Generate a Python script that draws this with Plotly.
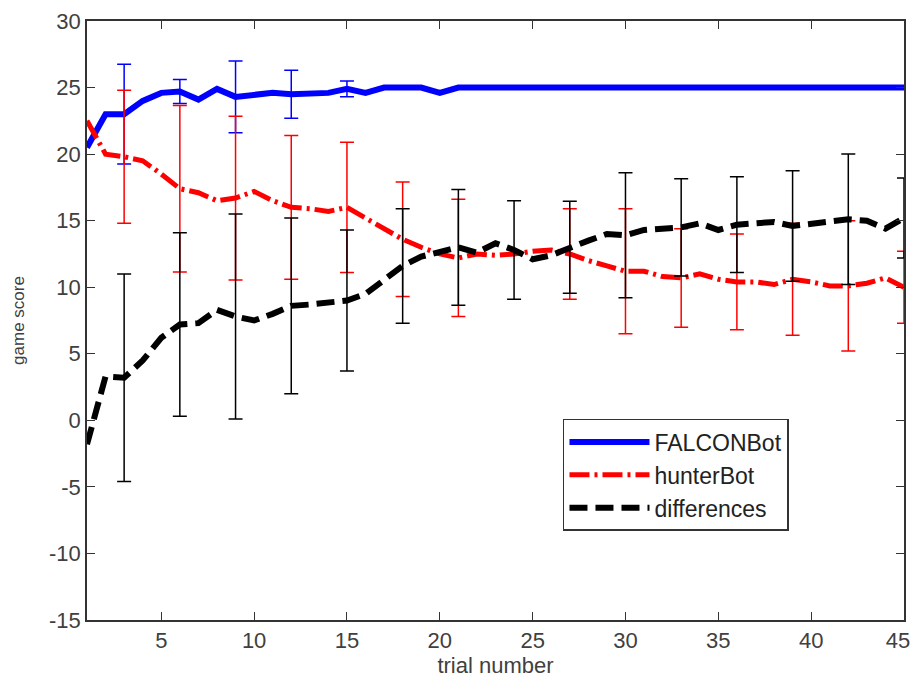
import plotly.graph_objects as go

# trial numbers
trials = list(range(1, 46))

# running mean game scores
falcon = [20.5, 23.0, 23.0, 24.0, 24.6, 24.7, 24.1, 24.9, 24.3, 24.4,
          24.6, 24.5, 24.5, 24.6, 24.9, 24.6, 25.0, 25.0, 25.0, 24.6,
          25.0, 25.0, 25.0, 25.0, 25.0, 24.9, 25.0, 25.0, 25.0, 25.0,
          25.0, 25.0, 25.0, 25.0, 25.0, 25.0, 25.0, 25.0, 25.0, 25.0,
          25.0, 25.0, 25.0, 25.0, 25.0]
hunter = [22.5, 20.0, 19.8, 19.5, 18.5, 17.4, 17.1, 16.5, 16.7, 17.2,
          16.5, 16.0, 15.9, 15.7, 16.0, 15.2, 14.5, 13.6, 13.0, 12.5,
          12.2, 12.5, 12.4, 12.5, 12.7, 12.8, 12.5, 12.0, 11.6, 11.2,
          11.2, 10.8, 10.7, 11.0, 10.6, 10.4, 10.4, 10.2, 10.6, 10.4,
          10.1, 10.1, 10.3, 10.7, 10.0]
diffs = [-1.8, 3.3, 3.2, 4.5, 6.2, 7.2, 7.3, 8.3, 7.8, 7.5,
         8.0, 8.6, 8.7, 8.9, 9.0, 9.5, 10.5, 11.6, 12.3, 12.6,
         13.0, 12.6, 13.3, 12.8, 12.1, 12.4, 13.0, 13.5, 14.0, 13.9,
         14.3, 14.4, 14.5, 14.8, 14.3, 14.7, 14.8, 14.9, 14.6, 14.8,
         15.0, 15.1, 15.0, 14.4, 15.2]

# error bars every third trial
err_trials = [3, 6, 9, 12, 15, 18, 21, 24, 27, 30, 33, 36, 39, 42, 45]
falcon_err = [3.75, 0.9, 2.7, 1.8, 0.6, 0, 0, 0, 0, 0, 0, 0, 0, 0, 0]
hunter_err = [5.0, 6.25, 6.15, 5.4, 4.9, 4.3, 4.4, 0, 3.4, 4.7, 3.7, 3.6, 4.2, 4.9, 2.7]
diffs_err = [7.8, 6.9, 7.7, 6.6, 5.3, 4.3, 4.35, 3.7, 3.45, 4.7, 3.65, 3.6, 4.15, 4.9, 3.0]

yticks = list(range(-15, 31, 5))
xticks = [5, 10, 15, 20, 25, 30, 35, 40, 45]


def at(series, xs):
    return [series[trials.index(x)] for x in xs]


fig = go.Figure()

series = [
    ("FALCONBot", falcon, falcon_err, "#0000ff", "solid", 6),
    ("hunterBot", hunter, hunter_err, "#ff0000", "20px,5px,3px,5px", 5),
    ("differences", diffs, diffs_err, "#000000", "18px,8px", 6),
]

for name, ys, errs, col, dash, w in series:
    fig.add_trace(go.Scatter(x=trials, y=ys, name=name, mode="lines",
                             line=dict(color=col, width=w, dash=dash)))
    fig.add_trace(go.Scatter(
        x=err_trials, y=at(ys, err_trials), mode="markers", showlegend=False,
        marker=dict(size=1, color="rgba(0,0,0,0)"),
        error_y=dict(type="data", array=errs, visible=True,
                     color=col, thickness=1.5, width=7)))

fnt = "Liberation Sans, Arial, sans-serif"

# last x label nudged left a little so it isn't clipped at the page edge
xticktext = [str(v) for v in xticks]
xticktext[-1] = xticktext[-1] + "\u00a0\u00a0"

fig.update_layout(
    width=914, height=681,
    paper_bgcolor="white", plot_bgcolor="white",
    margin=dict(l=87, r=10, t=21, b=61),
    font=dict(family=fnt, size=22, color="#404040"),
    showlegend=True,
    legend=dict(x=0.5826, y=0.3356, xanchor="left", yanchor="top",
                bgcolor="white", bordercolor="#333333", borderwidth=1.5,
                itemwidth=80, font=dict(size=23, color="#222222"),
                tracegroupgap=0),
)

fig.update_xaxes(range=[1, 45], tickvals=xticks, ticktext=xticktext,
                 ticklabeloverflow="allow",
                 ticks="inside", ticklen=8, tickcolor="#333333", automargin=False,
                 showline=True, linecolor="#333333", linewidth=1.5, mirror="ticks",
                 showgrid=False, zeroline=False,
                 title=dict(text="trial number", font=dict(size=22), standoff=4))
fig.update_yaxes(range=[-15, 30], tickvals=yticks, ticktext=[str(v) for v in yticks],
                 ticks="inside", ticklen=8, tickcolor="#333333", automargin=False,
                 showline=True, linecolor="#333333", linewidth=1.5, mirror="ticks",
                 showgrid=False, zeroline=False,
                 title=dict(text="game score", font=dict(size=17), standoff=20))

# drop the default 8px body margin so the figure fills the window exactly
fig.write_html("out.html", config={"displayModeBar": False},
               post_script="document.body.style.margin='0';"
                           "document.body.style.overflow='hidden';")
